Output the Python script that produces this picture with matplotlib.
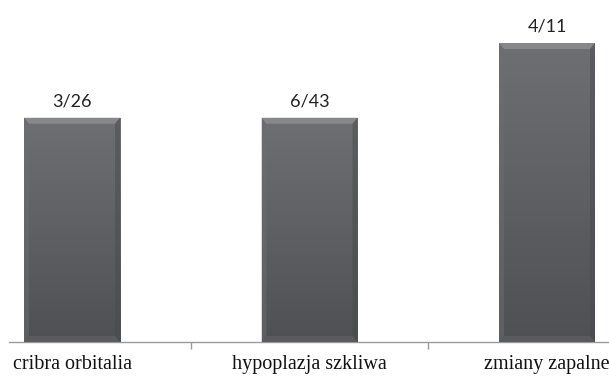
import numpy as np
import matplotlib.pyplot as plt
from matplotlib.patches import Polygon
from matplotlib.colors import LinearSegmentedColormap

#------------DATA--------------------------
categories = ["cribra orbitalia", "hypoplazja szkliwa", "zmiany zapalne"]
bar_values = [3.0, 3.0, 4.0]          # heights (arbitrary units)
bar_labels = ["3/26", "6/43", "4/11"]

#------------FIGURE------------------------
W, H = 609, 378
fig = plt.figure(figsize=(W / 100, H / 100), dpi=100)
ax = fig.add_axes([9 / W, (H - 342) / H, 1 - 9 / W, 342 / H])

x = np.arange(len(categories))
px_per_unit_x = 237.5
px_per_unit_y = 299 / 4.0
ax.set_xlim(-(72 - 9) / px_per_unit_x, (609 - 72) / px_per_unit_x)
ax.set_ylim(0, 342 / px_per_unit_y)

width = 96 / px_per_unit_x
bars = ax.bar(x, bar_values, width=width, color="#66676b", edgecolor="none", zorder=2)

# vertical gradient + soft bevel on each bar
grad_cmap = LinearSegmentedColormap.from_list("bar", ["#4f5053", "#5f6063", "#6e6f73"])
grad = np.linspace(0, 1, 100).reshape(-1, 1)
bx = 5 / px_per_unit_x
by = 6 / px_per_unit_y
for rect in bars:
    x0, y0 = rect.get_x(), rect.get_y()
    w, h = rect.get_width(), rect.get_height()
    im = ax.imshow(grad, cmap=grad_cmap, origin="lower", aspect="auto",
                   extent=(x0, x0 + w, y0, y0 + h), zorder=3)
    im.set_clip_path(rect)
    sides = [
        ([(x0, y0 + h), (x0 + w, y0 + h), (x0 + w - bx, y0 + h - by), (x0 + bx, y0 + h - by)], "#8a8b8f", 0.9),
        ([(x0, y0), (x0, y0 + h), (x0 + bx, y0 + h - by), (x0 + bx, y0 + by)], "#6c6d71", 0.5),
        ([(x0 + w, y0), (x0 + w, y0 + h), (x0 + w - bx, y0 + h - by), (x0 + w - bx, y0 + by)], "#4a4b4e", 0.5),
        ([(x0, y0), (x0 + w, y0), (x0 + w - bx, y0 + by), (x0 + bx, y0 + by)], "#5d5e61", 0.8),
    ]
    for pts, c, a in sides:
        ax.add_patch(Polygon(pts, closed=True, facecolor=c, alpha=a, edgecolor="none", zorder=4))

for xi, v, lab in zip(x, bar_values, bar_labels):
    ax.annotate(lab, xy=(xi, v), xytext=(0, 6), textcoords="offset points",
                ha="center", va="bottom", fontsize=13, family="Lato", color="#222222")

#------------AXES STYLE--------------------
for s in ("top", "right", "left"):
    ax.spines[s].set_visible(False)
ax.spines["bottom"].set_color("#9a9a9a")
ax.spines["bottom"].set_linewidth(1.0)
ax.set_yticks([])
ax.set_xticks(x)
ax.set_xticklabels(categories, family="Liberation Serif", fontsize=14.5, color="#111111")
ax.tick_params(axis="x", which="major", length=0, pad=9.5)
ax.set_xticks([0.5, 1.5], minor=True)
ax.tick_params(axis="x", which="minor", length=5, color="#9a9a9a", width=1.0)

fig.savefig("out.png", dpi=100)
